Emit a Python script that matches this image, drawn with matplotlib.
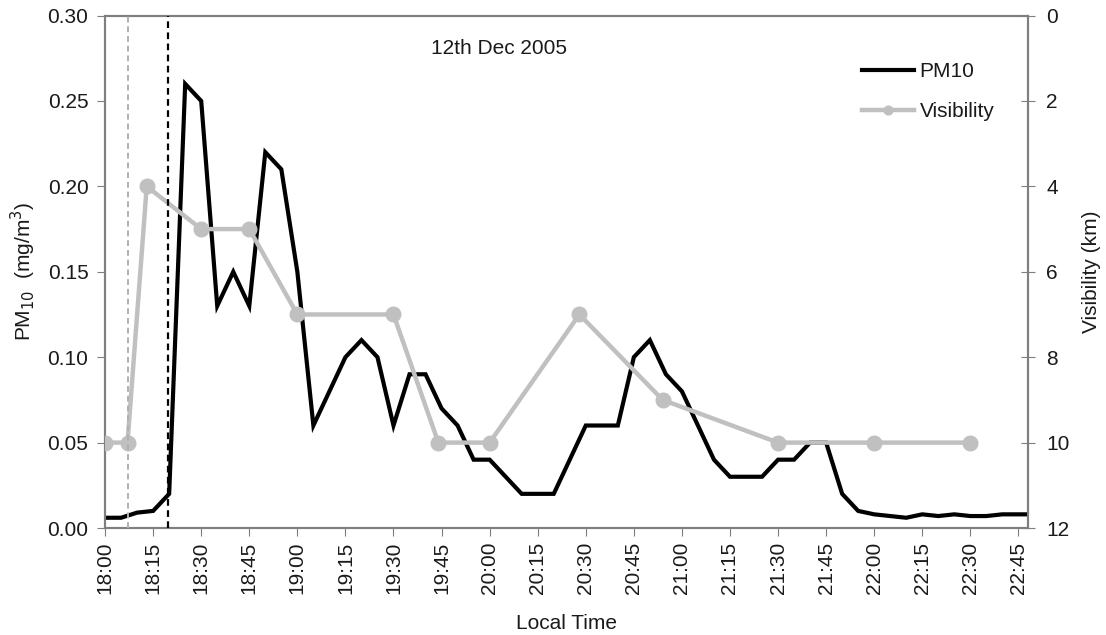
import matplotlib
matplotlib.use("Agg")
import matplotlib.pyplot as plt
import numpy as np

plt.rcParams['font.family'] = ['Liberation Sans', 'DejaVu Sans']
plt.rcParams['font.size'] = 15

# minutes after 18:00
pm_time = np.arange(0, 295, 5)
pm10 = [0.006, 0.006, 0.009, 0.010, 0.020, 0.260, 0.250, 0.130, 0.150, 0.130,
        0.220, 0.210, 0.150, 0.060, 0.080, 0.100, 0.110, 0.100, 0.060, 0.090,
        0.090, 0.070, 0.060, 0.040, 0.040, 0.030, 0.020, 0.020, 0.020, 0.040,
        0.060, 0.060, 0.060, 0.100, 0.110, 0.090, 0.080, 0.060, 0.040, 0.030,
        0.030, 0.030, 0.040, 0.040, 0.050, 0.050, 0.020, 0.010, 0.008, 0.007,
        0.006, 0.008, 0.007, 0.008, 0.007, 0.007, 0.008, 0.008, 0.008]

vis_time = [0, 7, 13, 30, 45, 60, 90, 104, 120, 148, 174, 210, 240, 270]
visibility = [10, 10, 4, 5, 5, 7, 7, 10, 10, 7, 9, 10, 10, 10]

tick_min = np.arange(0, 290, 15)
tick_labels = ["%d:%02d" % (18 + m // 60, m % 60) for m in tick_min]

event_grey = 7
event_black = 19.5

fig = plt.figure(figsize=(11.06, 6.35), dpi=100)
ax = fig.add_axes([0.095, 0.1685, 0.8345, 0.807])
ax2 = ax.twinx()

spine_c = '#7f7f7f'
text_c = '#1a1a1a'

ax.plot(pm_time, pm10, color='black', lw=3.0, label='PM10', solid_joinstyle='miter', zorder=3)
ax2.plot(vis_time, visibility, color='#c0c0c0', lw=3.2, marker='o', markersize=10.5,
         label='Visibility', zorder=3)
ax2.axvline(event_grey, color='#b0b0b0', lw=1.4, ls=(0, (3, 2)), zorder=4)
ax2.axvline(event_black, color='black', lw=1.6, ls=(0, (3, 2)), zorder=4)

ax.set_xlim(0, 288)
ax.set_ylim(0, 0.30)
ax.set_yticks(np.arange(0, 0.31, 0.05))
ax.set_yticklabels(["%.2f" % v for v in np.arange(0, 0.31, 0.05)])
ax2.set_ylim(12, 0)
ax2.set_yticks(range(0, 13, 2))

ax.set_xticks(tick_min)
ax.set_xticklabels(tick_labels, rotation=90)

for a in (ax, ax2):
    for s in a.spines.values():
        s.set_color(spine_c)
        s.set_linewidth(1.5)
ax.tick_params(axis='x', direction='out', length=6, color=spine_c, labelcolor=text_c, pad=4)
ax.tick_params(axis='y', direction='out', length=6, color=spine_c, labelcolor=text_c, pad=6)
ax2.tick_params(axis='y', direction='inout', length=10, color=spine_c, labelcolor=text_c, pad=8)

ax.set_xlabel('Local Time', color=text_c, labelpad=14)
ax.set_ylabel('PM$_{10}$  (mg/m$^3$)', color=text_c, labelpad=7)
ax2.set_ylabel('Visibility (km)', color=text_c, labelpad=9)

ax.text(0.427, 0.935, '12th Dec 2005', transform=ax.transAxes, ha='center', va='center',
        color=text_c)

h1, l1 = ax.get_legend_handles_labels()
h2, l2 = ax2.get_legend_handles_labels()
leg = ax2.legend(h1 + h2, l1 + l2, loc='upper left', bbox_to_anchor=(0.80, 0.946),
                 frameon=False, handlelength=2.5, handletextpad=0.25, labelspacing=1.0,
                 markerscale=0.6)
for t in leg.get_texts():
    t.set_color(text_c)

fig.savefig('out.png', dpi=100)
